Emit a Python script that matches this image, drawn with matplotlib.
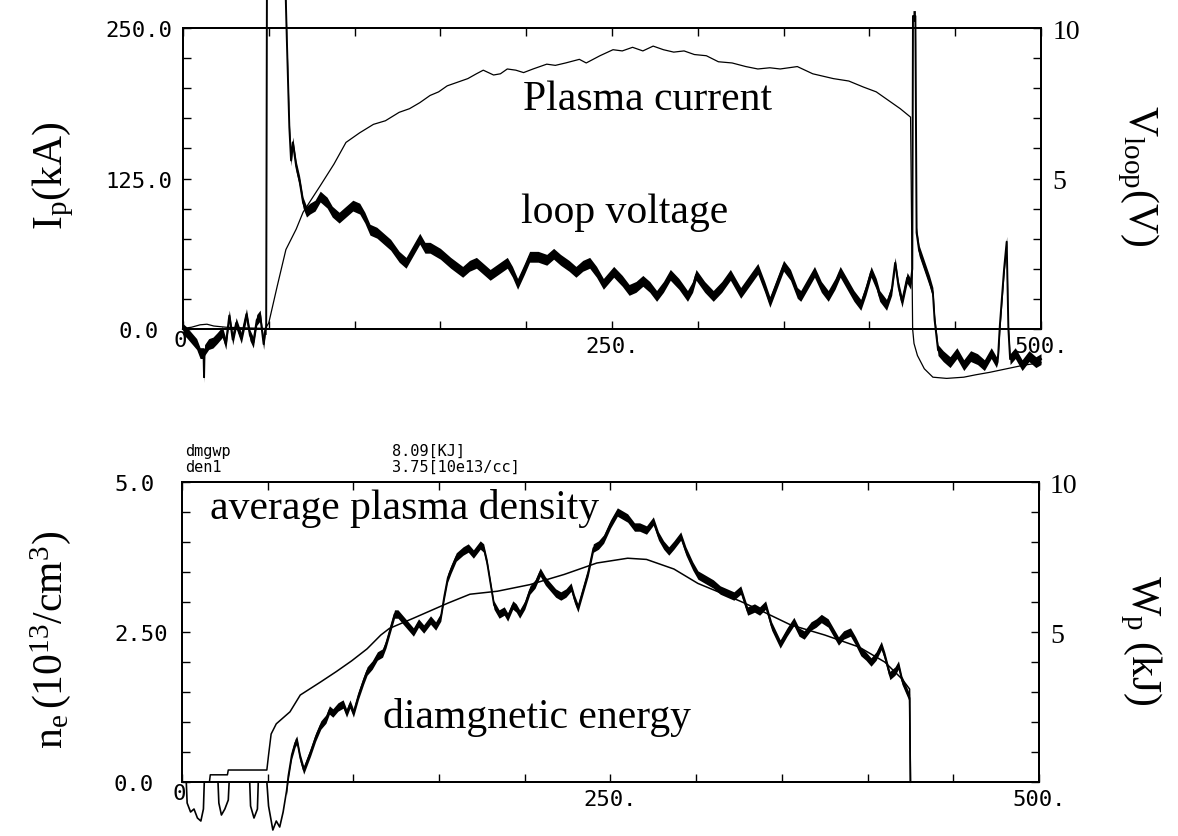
import numpy as np
import matplotlib.pyplot as plt

plt.rcParams['mathtext.fontset'] = 'custom'
plt.rcParams['mathtext.rm'] = 'Liberation Serif'
plt.rcParams['mathtext.it'] = 'Liberation Serif:italic'

# plasma current: (time ms, kA)
ip_pts = [(0, 0.5), (5, 1.5), (10, 3.5), (14, 4), (18, 2.5), (25, 1.5), (35, 1), (48, 0.5),
          (50, 5), (55, 36), (60, 66), (66, 83), (70, 97), (75, 108), (80, 119), (88, 137),
          (95, 155), (103, 163), (111, 170), (118, 173), (126, 180), (132, 183), (138, 188),
          (144, 194), (149, 197), (154, 202), (160, 205), (166, 208), (171, 212), (175, 215),
          (181, 211), (185, 212), (189, 216), (194, 215), (198.5, 213), (204, 216), (212, 220),
          (217, 219), (223, 221), (231, 224), (235, 221), (243, 227), (250.6, 232), (256, 231),
          (262, 234), (268, 231), (274, 235), (280, 232), (286, 230), (292, 231), (298, 228),
          (305, 227), (312, 222), (320, 221), (328, 218), (335, 216), (342, 217), (348, 216),
          (358, 218), (367, 212), (379, 208), (388, 206), (396.5, 201), (404, 197), (410, 191),
          (418, 183), (424, 176), (425.2, 0), (426, -12), (428, -22), (432, -33), (437, -40),
          (445, -41), (455, -40), (462, -38), (470, -36), (480, -33), (490, -30), (500, -28)]

# loop voltage: (time ms, V)
vloop_pts = [(0, 0), (2, -0.1), (5, -0.3), (8, -0.5), (10, -0.8), (12, -0.8), (12.3, -1.6),
             (12.6, -0.7), (15, -0.5), (17.5, -0.45), (20, -0.3), (23, -0.1), (25, -0.5),
             (27, 0.45), (29, -0.35), (31, 0.2), (34, -0.3), (37, 0.5), (39, -0.2), (41, -0.45),
             (43, 0.3), (45, 0.45), (47, -0.5), (48, 0), (48.5, 0), (49, 13), (59, 13),
             (60.5, 9.7), (62, 6.7), (63, 5.6), (64, 6.2), (66, 5.4), (68, 4.9), (70, 4.2),
             (72, 3.9), (74, 4.0), (77, 4.1), (80, 4.4), (84, 4.2), (87, 3.9), (91, 3.7),
             (95, 3.9), (99, 4.1), (103, 4.0), (106, 3.7), (109, 3.3), (113, 3.2), (117, 3.0),
             (121, 2.8), (126, 2.4), (130, 2.2), (134, 2.6), (138, 3.0), (141, 2.7), (144, 2.7),
             (147, 2.6), (150, 2.5), (156, 2.2), (163, 1.9), (167, 2.1), (171, 2.2), (175, 2.0),
             (179, 1.8), (184, 2.0), (189, 2.2), (192, 1.9), (195, 1.5), (199, 2.0), (202, 2.4),
             (207, 2.4), (212, 2.3), (216, 2.5), (220, 2.3), (225, 2.1), (229, 1.9), (233, 2.1),
             (237, 2.2), (241, 1.9), (245, 1.5), (248, 1.7), (251, 1.9), (256, 1.6), (260, 1.3),
             (264, 1.4), (268, 1.6), (272, 1.4), (276, 1.1), (280, 1.4), (284, 1.8), (289, 1.5),
             (294, 1.1), (297, 1.4), (299, 1.8), (304, 1.4), (309, 1.1), (314, 1.4), (319, 1.8),
             (322, 1.5), (325, 1.2), (330, 1.6), (335, 2.0), (339, 1.4), (342, 0.9), (346, 1.5),
             (350, 2.1), (354, 1.8), (358, 1.2), (360, 1.1), (364, 1.5), (368, 1.9), (372, 1.4),
             (376, 1.1), (380, 1.5), (383, 1.9), (387, 1.5), (391, 1.1), (395, 0.8), (398, 1.3),
             (401, 1.9), (404, 1.5), (406, 1.1), (410, 0.8), (413, 1.3), (415, 2.2), (417, 1.4),
             (419, 0.9), (422, 1.7), (424, 1.5), (425, 2.0), (425.4, 10.4), (426.8, 10.4),
             (427.5, 3.2), (429, 2.6), (432, 2.1), (435, 1.6), (437, 1.2), (438, 0.3),
             (440, -0.7), (443, -0.9), (447, -1.1), (451, -0.8), (455, -1.2), (459, -0.9),
             (463, -1.0), (467, -1.2), (471, -0.8), (474, -1.1), (475, -0.9), (476, 0.1),
             (478.5, 2.0), (480, 2.9), (481, 0), (482, -1.0), (485, -0.8), (489, -1.2),
             (493, -0.9), (497, -1.1), (500, -1.0)]

# line-averaged density: (time ms, 1e13 / cm^3)
ne_pts = [(0, 0), (16, 0), (16.5, 0.12), (26.5, 0.12), (27, 0.2), (49.5, 0.2), (50.5, 0.45),
          (52, 0.8), (55, 0.97), (63, 1.17), (69, 1.45), (81, 1.67), (90, 1.84), (99, 2.02),
          (108, 2.22), (116, 2.45), (121, 2.56), (135, 2.73), (155, 2.98), (168, 3.13),
          (184, 3.18), (203, 3.29), (223, 3.46), (242, 3.65), (260, 3.73), (271, 3.71),
          (287, 3.55), (301, 3.31), (312, 3.18), (326, 3.01), (339, 2.84), (355, 2.62),
          (375, 2.45), (395, 2.25), (410, 2.0), (420, 1.72), (424.5, 1.55), (425, 0)]

# diamagnetic stored energy: (time ms, kJ)
wp_pts = [(0, 0), (2.5, 0), (3, -0.7), (5, -1.0), (7, -0.9), (9, -1.2), (11, -1.3), (12.5, -0.9),
          (13, 0), (21, 0), (21.5, -0.7), (23, -1.1), (25, -0.9), (27, -0.6), (27.5, 0),
          (39.5, 0), (40, -0.8), (42, -1.2), (44, -0.9), (44.5, 0), (49.5, 0), (50.5, -0.8),
          (53, -1.6), (55, -1.3), (57, -1.5), (59, -1.0), (61, -0.3), (62, 0.2), (64, 0.9),
          (66, 1.3), (67, 1.4), (69, 0.8), (71, 0.4), (73, 0.7), (75, 1.0), (78, 1.5), (81, 1.9),
          (84, 2.1), (86, 2.4), (88, 2.3), (91, 2.5), (94, 2.6), (96, 2.3), (98, 2.6), (100, 2.3),
          (103, 2.9), (106, 3.4), (108, 3.7), (111, 3.9), (114, 4.2), (117, 4.3), (119, 4.6),
          (121, 5.0), (124, 5.6), (126, 5.6), (129, 5.4), (132, 5.2), (135, 5.0), (138, 5.3),
          (141, 5.1), (145, 5.4), (148, 5.2), (151, 5.5), (153, 6.2), (155, 6.8), (157, 7.1),
          (160, 7.5), (164, 7.7), (167, 7.8), (170, 7.6), (174, 7.9), (176, 7.8), (178, 7.3),
          (180, 6.6), (182, 5.9), (185, 5.6), (188, 5.7), (190, 5.5), (193, 5.9), (195, 5.8),
          (197, 5.6), (200, 5.9), (203, 6.4), (206, 6.6), (209, 7.0), (212, 6.7), (215, 6.5),
          (218, 6.3), (221, 6.2), (224, 6.3), (227, 6.5), (229, 6.1), (231, 5.8), (234, 6.4),
          (237, 7.0), (240, 7.8), (243, 7.9), (246, 8.1), (250, 8.6), (254, 9.0), (257, 8.9),
          (260, 8.8), (264, 8.5), (267, 8.5), (271, 8.4), (275, 8.7), (278, 8.2), (281, 7.9),
          (284, 7.7), (287, 7.9), (291, 8.2), (294, 7.7), (298, 7.2), (301, 6.9), (304, 6.8),
          (307, 6.7), (310, 6.6), (314, 6.4), (318, 6.3), (322, 6.2), (326, 6.4), (330, 5.7),
          (334, 5.8), (337, 5.7), (340.5, 5.9), (344, 5.2), (349, 4.6), (353, 5.0), (357, 5.35),
          (360, 5.0), (363, 4.9), (367, 5.2), (370, 5.3), (373, 5.45), (377, 5.3), (380, 5.0),
          (383, 4.7), (386, 4.9), (390, 5.0), (393, 4.7), (396, 4.35), (399, 4.2), (402, 4.0),
          (405, 4.2), (408, 4.55), (410, 4.2), (413, 3.55), (416, 3.7), (418, 3.9), (420, 3.4),
          (423, 3.0), (424.5, 2.8), (425, 0)]

# pickup spread on the two noisy signals
vloop_noise = 0.18   # V
wp_noise = 0.14      # kJ
breakdown_t = 61     # ms, diamagnetic loop only noisy after this

ip_t, ip_ka = zip(*ip_pts)
vloop_t, vloop_v = zip(*vloop_pts)
ne_t, ne_val = zip(*ne_pts)
wp_t, wp_kj = zip(*wp_pts)

TICK_FONT = dict(family='DejaVu Sans Mono', size=16)
SERIF = 'Liberation Serif'


def frame(ax, tw, ymax, ystep, ylabels, rmax, rlabels, ypad, yha):
    ax.set_xlim(0, 500)
    ax.set_ylim(0, ymax)
    tw.set_ylim(0, rmax)
    for a in (ax, tw):
        for sp in a.spines.values():
            sp.set_linewidth(1.4)
    xt = list(range(0, 501, 50))
    ax.set_xticks(xt)
    ax.set_xticklabels([{250: '250.', 500: '500.'}.get(v, '') for v in xt], **TICK_FONT)
    yt = np.arange(0, ymax + ystep / 2, ystep)
    ax.set_yticks(yt)
    ax.set_yticklabels([ylabels.get(round(v, 2), '') for v in yt], ha=yha, **TICK_FONT)
    rt = np.arange(0, rmax + 0.5, 1)
    tw.set_yticks(rt)
    tw.set_yticklabels([rlabels.get(int(v), '') for v in rt], family=SERIF, size=20)
    ax.tick_params(axis='x', direction='in', length=6, width=1, top=True, pad=5)
    ax.tick_params(axis='y', direction='in', length=6, width=1, pad=ypad)
    tw.tick_params(axis='y', direction='in', length=6, width=1, pad=8)
    ax.annotate('0', xy=(0, 0), xytext=(-2, -1), textcoords='offset points',
                ha='center', va='top', **TICK_FONT)


def noisy(ax, t, y, spread, lw, t_from=None):
    t = np.array(t)
    y = np.array(y)
    ax.plot(t, y, color='black', lw=lw, clip_on=False)
    mask = None if t_from is None else t >= t_from
    band = ax.fill_between(t, y - spread, y + spread, where=mask, color='black', lw=0)
    band.set_clip_on(False)


fig = plt.figure(figsize=(11.78, 8.37), dpi=100)

# upper panel: current and loop voltage
ax1 = fig.add_axes([0.1553, 0.6057, 0.7284, 0.3596])
tw1 = ax1.twinx()
frame(ax1, tw1, 250, 25, {0: '0.0', 125: '125.0', 250: '250.0'}, 10, {5: '5', 10: '10'},
      ypad=32, yha='center')
ax1.plot(ip_t, ip_ka, color='black', lw=0.9, clip_on=False)
noisy(tw1, vloop_t, vloop_v, vloop_noise, 1.4)
ax1.text(198, 183, 'Plasma current', family=SERIF, size=30)
ax1.text(197, 89, 'loop voltage', family=SERIF, size=30)

# lower panel: density and diamagnetic energy
ax2 = fig.add_axes([0.1545, 0.0645, 0.7275, 0.3584])
tw2 = ax2.twinx()
frame(ax2, tw2, 5, 0.5, {0: '0.0', 2.5: '2.50', 5: '5.0'}, 10, {5: '5', 10: '10'},
      ypad=49, yha='left')
ax2.plot(ne_t, ne_val, color='black', lw=1.1, clip_on=False)
noisy(tw2, wp_t, wp_kj, wp_noise, 1.2, t_from=breakdown_t)
ax2.text(16.4, 4.40, 'average plasma density', family=SERIF, size=30)
ax2.text(117.4, 0.92, 'diamgnetic energy', family=SERIF, size=30)

hdr = dict(family='DejaVu Sans Mono', size=11, transform=ax2.transAxes)
ax2.text(0.004, 1.090, 'dmgwp', **hdr)
ax2.text(0.004, 1.038, 'den1', **hdr)
ax2.text(0.245, 1.090, '8.09[KJ]', **hdr)
ax2.text(0.245, 1.038, '3.75[10e13/cc]', **hdr)

# axis titles
fig.text(0.045, 0.79, r'$\mathrm{I_p}$(kA)', family=SERIF, size=30, rotation=90,
         ha='center', va='center')
fig.text(0.966, 0.79, r'$\mathrm{V_{loop}}$(V)', family=SERIF, size=30, rotation=270,
         ha='center', va='center')
fig.text(0.043, 0.235, r'$\mathrm{n_e\,(10^{13}/cm^{3})}$', family=SERIF, size=30, rotation=90,
         ha='center', va='center')
fig.text(0.968, 0.235, r'$\mathrm{W_p}$ (kJ)', family=SERIF, size=30, rotation=270,
         ha='center', va='center')

fig.savefig('out.png', dpi=100)
